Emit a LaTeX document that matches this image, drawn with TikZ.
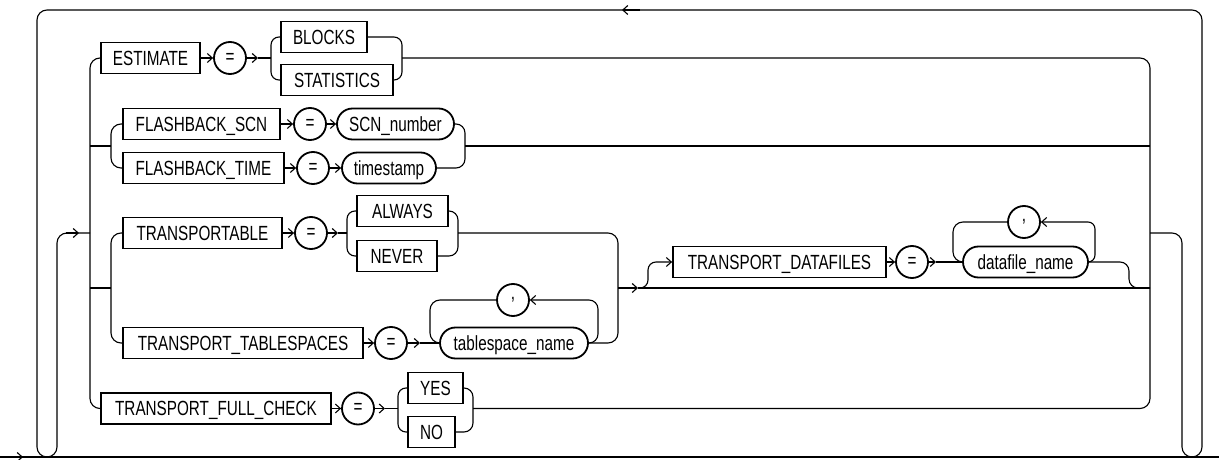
\documentclass[tikz,border=0pt]{standalone}
\usepackage{fontspec}
\setmainfont{Liberation Sans}[FakeStretch=0.745]
\usetikzlibrary{arrows.meta}
\newcommand{\rrfont}{\fontsize{20.5}{23}\selectfont}
\begin{document}
\begin{tikzpicture}[x=1pt,y=-1pt,
 rail/.style={line width=1.1pt, draw=black},
 arr/.style={rail, -{Straight Barb[length=5pt,width=9pt]}},
 kw/.style={draw, line width=1.8pt, minimum height=31pt, inner sep=0pt, text height=14.6pt, text depth=0pt, font=\rrfont},
 pill/.style={kw, rounded corners=15.5pt},
 op/.style={draw, circle, line width=1.8pt, minimum size=32pt, inner sep=0pt, font=\rrfont}]
\useasboundingbox (0,0) rectangle (1219,460);

% ---------- nodes ----------
% row 1
\node[kw, minimum width=99] (est) at (150.5,58) {ESTIMATE};
\node[op] (eq1) at (230,58) {=};
\node[kw, minimum width=86] (blocks) at (324,37) {BLOCKS};
\node[kw, minimum width=112] (stats) at (337,80) {STATISTICS};
% row 2
\node[kw, minimum width=157] (fscn) at (201.5,124) {FLASHBACK\_SCN};
\node[op] (eq2) at (310,124) {=};
\node[pill, minimum width=117] (scn) at (395.5,124) {SCN\_number};
\node[kw, minimum width=161] (ftime) at (203.5,168) {FLASHBACK\_TIME};
\node[op] (eq3) at (313,168) {=};
\node[pill, minimum width=94] (ts) at (389,168) {timestamp};
% row 3
\node[kw, minimum width=159] (tpt) at (202.5,233) {TRANSPORTABLE};
\node[op] (eq4) at (311,233) {=};
\node[kw, minimum width=91] (always) at (402.5,211) {ALWAYS};
\node[kw, minimum width=80] (never) at (397,256) {NEVER};
\node[kw, minimum width=240] (tts) at (243,343) {TRANSPORT\_TABLESPACES};
\node[op] (eq5) at (391,343) {=};
\node[pill, minimum width=148] (tsn) at (514,343) {tablespace\_name};
\node[op] (cm1) at (513,300) {,};
\node[kw, minimum width=213] (td) at (779.5,262) {TRANSPORT\_DATAFILES};
\node[op] (eq6) at (912,262) {=};
\node[pill, minimum width=125] (dfn) at (1025.5,262) {datafile\_name};
\node[op] (cm2) at (1024,222) {,};
% row 4
\node[kw, minimum width=230] (tfc) at (216,408.5) {TRANSPORT\_FULL\_CHECK};
\node[op] (eq7) at (358,408.5) {=};
\node[kw, minimum width=55] (yes) at (435.5,388) {YES};
\node[kw, minimum width=47] (no) at (431.5,432) {NO};

% ---------- junction coordinates ----------
\coordinate (inL) at (90,233);
\coordinate (outR) at (1150,233);
\coordinate (b1L) at (271,58);   \coordinate (a1) at (258,58);
\coordinate (b1R) at (402,58);
\coordinate (s2L) at (90,146);   \coordinate (b2L) at (111,146);
\coordinate (b2R) at (465,146);
\coordinate (s3L) at (90,288);   \coordinate (b3L) at (111,288);
\coordinate (b3aL) at (347,233); \coordinate (a3) at (338,233);
\coordinate (b3aR) at (458,233);
\coordinate (a5) at (420,343);
\coordinate (m3) at (618,288);   \coordinate (a8) at (638,288);
\coordinate (a6) at (936,262);
\coordinate (r3) at (1150,288);
\coordinate (b4L) at (398,408.5);  \coordinate (a4) at (385,408.5);
\coordinate (b4R) at (473,408.5);

% ---------- outer rails ----------
\draw[rail] (0,457) -- (1219,457);
\draw[arr] (0,457) -- (23,457);
\draw[rail, rounded corners=10pt] (outR) -- (1182,233) -- (1182,457) -- (1202,457) -- (1202,10)
   -- (37,10) -- (37,457) -- (57,457) -- (57,233) -- (inL);
\draw[arr] (640,10) -- (622,10);
\draw[arr] (66,233) -- (79,233);

% main choice verticals
\draw[rail, rounded corners=10pt] (est.west) -- (90,58) -- (90,408.5) -- (tfc.west);
\draw[rail, rounded corners=10pt] (b1R) -- (1150,58) -- (1150,408.5) -- (b4R);

% ---------- row 1 ----------
\draw[arr] (est.east) -- (eq1.west);
\draw[arr] (eq1.east) -- (a1);
\draw[rail] (a1) -- (b1L);
\draw[rail, rounded corners=8pt] (blocks.west) -| (b1L) |- (stats.west);
\draw[rail, rounded corners=8pt] (blocks.east) -| (b1R) |- (stats.east);

% ---------- row 2 ----------
\draw[rail] (s2L) -- (b2L);
\draw[rail, rounded corners=10pt] (fscn.west) -| (b2L) |- (ftime.west);
\draw[arr] (fscn.east) -- (eq2.west);
\draw[arr] (eq2.east) -- (scn.west);
\draw[arr] (ftime.east) -- (eq3.west);
\draw[arr] (eq3.east) -- (ts.west);
\draw[rail, rounded corners=9pt] (scn.east) -| (b2R) |- (ts.east);
\draw[rail] (b2R) -- (1150,146);

% ---------- row 3 ----------
\draw[rail] (s3L) -- (b3L);
\draw[rail, rounded corners=10pt] (tpt.west) -| (b3L) |- (tts.west);
\draw[arr] (tpt.east) -- (eq4.west);
\draw[arr] (eq4.east) -- (a3);
\draw[rail] (a3) -- (b3aL);
\draw[rail, rounded corners=8pt] (always.west) -| (b3aL) |- (never.west);
\draw[rail, rounded corners=9pt] (always.east) -| (b3aR) |- (never.east);
\draw[arr] (tts.east) -- (eq5.west);
\draw[arr] (eq5.east) -- (a5);
\draw[rail] (a5) -- (tsn.west);
\draw[rail, rounded corners=10pt] (cm1.west) -- (430,300) -- (430,343) -- (tsn.west);
\draw[arr, rounded corners=9pt] (tsn.east) -| (598,300) -- (cm1.east);
\draw[rail, rounded corners=10pt] (b3aR) -- (618,233) -- (618,343) -- (tsn.east);
\draw[arr] (m3) -- (a8);
\draw[rail] (a8) -- (r3);
\draw[arr, rounded corners=8pt] (a8) -| (648,262) -- (td.west);
\draw[arr] (td.east) -- (eq6.west);
\draw[arr] (eq6.east) -- (a6);
\draw[rail] (a6) -- (dfn.west);
\draw[rail, rounded corners=10pt] (cm2.west) -- (953,222) -- (953,262) -- (dfn.west);
\draw[arr, rounded corners=7pt] (dfn.east) -| (1095,222) -- (cm2.east);
\draw[rail, rounded corners=9pt] (dfn.east) -- (1129,262) -- (1129,288) -- (r3);

% ---------- row 4 ----------
\draw[arr] (tfc.east) -- (eq7.west);
\draw[arr] (eq7.east) -- (a4);
\draw[rail] (a4) -- (b4L);
\draw[rail, rounded corners=8pt] (yes.west) -| (b4L) |- (no.west);
\draw[rail, rounded corners=9pt] (yes.east) -| (b4R) |- (no.east);
\end{tikzpicture}
\end{document}
